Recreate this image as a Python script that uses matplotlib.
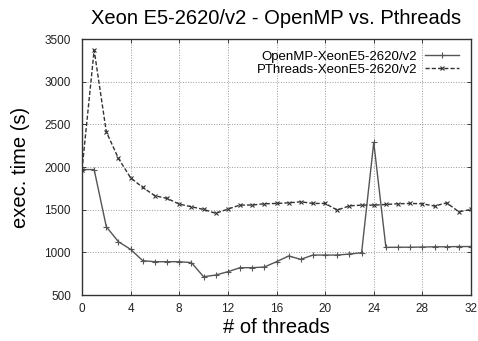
import numpy as np
import matplotlib
matplotlib.use('Agg')
import matplotlib.pyplot as plt

plt.rcParams['font.family'] = ['Liberation Sans', 'DejaVu Sans']

threads = list(range(0, 33))

openmp = [1970, 1970, 1300, 1124, 1035, 902, 890, 890, 890, 880,
          714, 734, 773, 820, 820, 828, 890, 957, 918, 968,
          968, 968, 980, 995, 2288, 1058, 1060, 1060, 1062, 1065,
          1065, 1068, 1068]

pthreads = [1970, 3370, 2412, 2100, 1873, 1760, 1663, 1632, 1565, 1534,
            1503, 1457, 1507, 1554, 1554, 1569, 1573, 1580, 1592, 1573,
            1573, 1495, 1545, 1553, 1553, 1561, 1569, 1573, 1569, 1542,
            1580, 1475, 1503]

x_ticks = list(range(0, 33, 4))
y_ticks = list(range(500, 3501, 500))

fig = plt.figure(figsize=(4.78, 3.41), dpi=100)
ax = fig.add_axes([82/478, 1 - 295/341, (471-82)/478, (295-39)/341])

ax.plot(threads, openmp, '-', color='#555555', lw=1.0, marker='+', ms=4,
        mew=0.8, label='OpenMP-XeonE5-2620/v2')
ax.plot(threads, pthreads, '--', color='#333333', lw=1.0, marker='x', ms=3.5,
        mew=0.8, dashes=(3, 1.5), label='PThreads-XeonE5-2620/v2')

ax.set_xlim(0, 32)
ax.set_ylim(500, 3500)
ax.set_xticks(x_ticks)
ax.set_yticks(y_ticks)
ax.tick_params(direction='in', top=True, right=True, labelsize=8.5,
               length=3, width=0.6, colors='#222222')
ax.tick_params(axis='x', pad=6)
ax.tick_params(axis='y', pad=8)
ax.grid(True, linestyle=':', color='#999999', lw=0.7)
for s in ax.spines.values():
    s.set_color('#333333')
    s.set_linewidth(1.0)

ax.set_xlabel('# of threads', fontsize=14.5, labelpad=2)
ax.set_ylabel('exec. time (s)', fontsize=14.5, labelpad=10)
ax.set_title('Xeon E5-2620/v2 - OpenMP vs. Pthreads', fontsize=14.5, pad=11)

leg = ax.legend(loc='upper right', fontsize=9.5, frameon=False, markerfirst=False,
                handlelength=2.6, borderaxespad=0.9, labelspacing=0.05,
                handletextpad=0.6, borderpad=0.0)

fig.savefig('out.png', dpi=100)
